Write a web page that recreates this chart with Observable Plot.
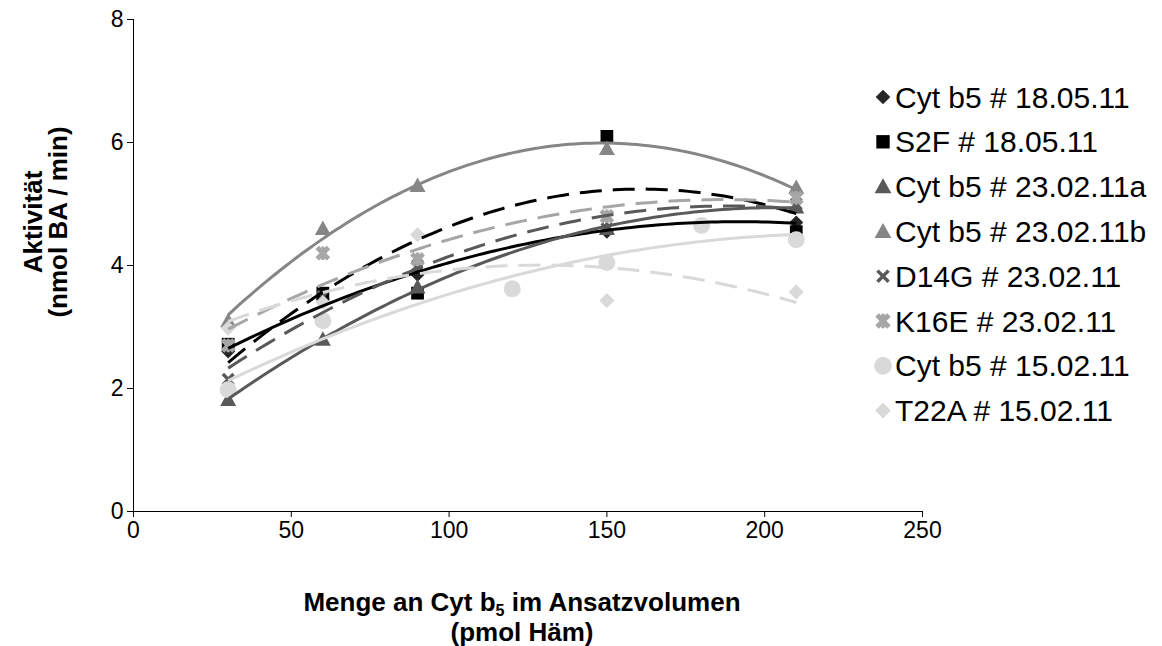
<!DOCTYPE html>
<html><head><meta charset="utf-8">
<script src="https://cdn.jsdelivr.net/npm/d3@7"></script>
<script src="https://cdn.jsdelivr.net/npm/@observablehq/plot@0.6"></script>
<style>body{margin:0;background:#fff;} svg{font-family:"Liberation Sans",Arial,sans-serif;}</style>
</head><body><div id="chart"></div>
<script>
// ---- data ----
const seriesNames = ["Cyt b5 # 18.05.11","S2F # 18.05.11","Cyt b5 # 23.02.11a","Cyt b5 # 23.02.11b","D14G # 23.02.11","K16E # 23.02.11","Cyt b5 # 15.02.11","T22A # 15.02.11"];
const xCyt18 = [30,60,90,150,210];      const yCyt18 = [2.6,3.45,3.85,4.55,4.7];
const xS2F   = [30,60,90,150,210];      const yS2F   = [2.72,3.55,3.55,6.1,4.55];
const xCyt23a= [30,60,90,150,210];      const yCyt23a= [1.82,2.8,3.65,4.6,4.95];
const xCyt23b= [30,60,90,150,210];      const yCyt23b= [3.1,4.6,5.3,5.9,5.27];
const xD14G  = [30,60,90,150,210];      const yD14G  = [2.15,3.5,4.0,4.6,5.0];
const xK16E  = [30,60,90,150,210];      const yK16E  = [2.7,4.2,4.1,4.8,5.1];
const xCyt15 = [30,60,120,150,180,210]; const yCyt15 = [1.98,3.1,3.62,4.05,4.65,4.42];
const xT22A  = [30,60,90,150,210];      const yT22A  = [2.98,3.4,4.5,3.43,3.57];
const xTicks = [0,50,100,150,200,250];
const yTicks = [0,2,4,6,8];

// ---- styles ----
const markerColors = ["#262626","#000000","#595959","#868686","#595959","#a6a6a6","#d9d9d9","#d9d9d9"];
const lineColors   = ["#000000","#000000","#595959","#868686","#595959","#a6a6a6","#d9d9d9","#d9d9d9"];
const lineDash     = [null,"22,11",null,null,"22,11","22,11",null,"22,11"];

function poly(ctx, pts){ctx.moveTo(pts[0][0],pts[0][1]); for(let i=1;i<pts.length;i++) ctx.lineTo(pts[i][0],pts[i][1]); ctx.closePath();}
function bar(ctx, ang, len, w){
  const c=Math.cos(ang), s=Math.sin(ang);
  const p=[[-len,-w],[len,-w],[len,w],[-len,w]].map(([a,b])=>[a*c-b*s, a*s+b*c]);
  poly(ctx,p);
}
const R = size => Math.sqrt(size/Math.PI);
const symDiamond = {draw(ctx,size){const r=R(size); poly(ctx,[[0,-r],[r,0],[0,r],[-r,0]]);}};
const symSquare  = {draw(ctx,size){const r=R(size)*0.85; poly(ctx,[[-r,-r],[r,-r],[r,r],[-r,r]]);}};
const symTriangle= {draw(ctx,size){const r=R(size); poly(ctx,[[0,-r],[r,r*0.8],[-r,r*0.8]]);}};
const symTimes   = {draw(ctx,size){const r=R(size); bar(ctx,Math.PI/4,r,r*0.22); bar(ctx,-Math.PI/4,r,r*0.22);}};
const symStar    = {draw(ctx,size){const r=R(size); bar(ctx,Math.PI/4,r,r*0.3); bar(ctx,-Math.PI/4,r,r*0.3); bar(ctx,Math.PI/2,r*0.85,r*0.2);}};
const symCircle  = {draw(ctx,size){const r=R(size); ctx.moveTo(r,0); ctx.arc(0,0,r,0,2*Math.PI);}};
const symbols = [symDiamond,symSquare,symTriangle,symTriangle,symTimes,symStar,symCircle,symDiamond];
const radii   = [7,7.5,8,8,7.5,8,8.5,7.5];

const xs = [xCyt18,xS2F,xCyt23a,xCyt23b,xD14G,xK16E,xCyt15,xT22A];
const ys = [yCyt18,yS2F,yCyt23a,yCyt23b,yD14G,yK16E,yCyt15,yT22A];

// polynomial (order 2) least-squares trendline, as in the original spreadsheet
function quadFit(x,y){
  const S=k=>d3.sum(x,v=>v**k), T=k=>d3.sum(x.map((v,i)=>v**k*y[i]));
  const A=[[S(4),S(3),S(2),T(2)],[S(3),S(2),S(1),T(1)],[S(2),S(1),x.length,T(0)]];
  for(let i=0;i<3;i++){for(let j=i+1;j<3;j++){const f=A[j][i]/A[i][i]; for(let k=i;k<4;k++) A[j][k]-=f*A[i][k];}}
  const c=[0,0,0];
  for(let i=2;i>=0;i--){let s=A[i][3]; for(let k=i+1;k<3;k++) s-=A[i][k]*c[k]; c[i]=s/A[i][i];}
  return c;
}

const marks = [];
seriesNames.forEach((name,i)=>{
  const pts = xs[i].map((x,j)=>({x, y: ys[i][j]}));
  marks.push(Plot.dot(pts,{x:"x",y:"y",symbol:symbols[i],r:radii[i],fill:markerColors[i],stroke:"none"}));
});
seriesNames.forEach((name,i)=>{
  const [a,b,c] = quadFit(xs[i],ys[i]);
  const x0=d3.min(xs[i]), x1=d3.max(xs[i]);
  const curve = d3.range(0,101).map(k=>{const x=x0+(x1-x0)*k/100; return {x, y:a*x*x+b*x+c};});
  marks.push(Plot.line(curve,{x:"x",y:"y",stroke:lineColors[i],strokeWidth:3,strokeDasharray:lineDash[i]||undefined,strokeLinecap:"butt"}));
});

const FS = 23, TFS = 26, LFS = 30;
const plot = Plot.plot({
  width:1162, height:646,
  marginLeft:133, marginRight:240, marginTop:19, marginBottom:135,
  style:{fontFamily:"Liberation Sans, Arial, sans-serif", background:"#fff"},
  x:{domain:[0,250]}, y:{domain:[0,8]},
  marks:[
    Plot.axisX({ticks:xTicks, tickSize:6, tickPadding:4, fontSize:FS, label:null, stroke:"#000"}),
    Plot.axisY({ticks:yTicks, tickSize:6, tickPadding:4, fontSize:FS, label:null, stroke:"#000"}),
    Plot.ruleX([0],{stroke:"#000",strokeWidth:1}),
    Plot.ruleY([0],{stroke:"#000",strokeWidth:1}),
    ...marks
  ]
});
document.getElementById("chart").appendChild(plot);

const svg = d3.select(plot);
// x title
const xt = svg.append("text").attr("x",522).attr("y",611).attr("text-anchor","middle")
  .attr("font-size",TFS).attr("font-weight","bold").attr("fill","#000");
xt.append("tspan").text("Menge an Cyt b");
xt.append("tspan").attr("font-size",TFS*0.62).attr("dy",5).text("5");
xt.append("tspan").attr("dy",-5).text(" im Ansatzvolumen");
svg.append("text").attr("x",522).attr("y",641).attr("text-anchor","middle")
  .attr("font-size",TFS).attr("font-weight","bold").attr("fill","#000").text("(pmol Häm)");
// y title
const yt = svg.append("g").attr("transform","translate(0,222) rotate(-90)");
yt.append("text").attr("x",0).attr("y",42).attr("text-anchor","middle").attr("font-size",TFS).attr("font-weight","bold").text("Aktivität");
yt.append("text").attr("x",0).attr("y",67).attr("text-anchor","middle").attr("font-size",TFS).attr("font-weight","bold").text("(nmol BA / min)");
// legend
const lg = svg.append("g");
seriesNames.forEach((name,i)=>{
  const cy = 97 + i*44.8;
  lg.append("path").attr("transform",`translate(883,${cy})`)
    .attr("d", d3.symbol(symbols[i], Math.PI*Math.pow(radii[i]*1.05,2))())
    .attr("fill",markerColors[i]);
  lg.append("text").attr("x",895).attr("y",cy+10.5).attr("text-anchor","start").attr("font-size",LFS).attr("fill","#000").text(name);
});
</script></body></html>
